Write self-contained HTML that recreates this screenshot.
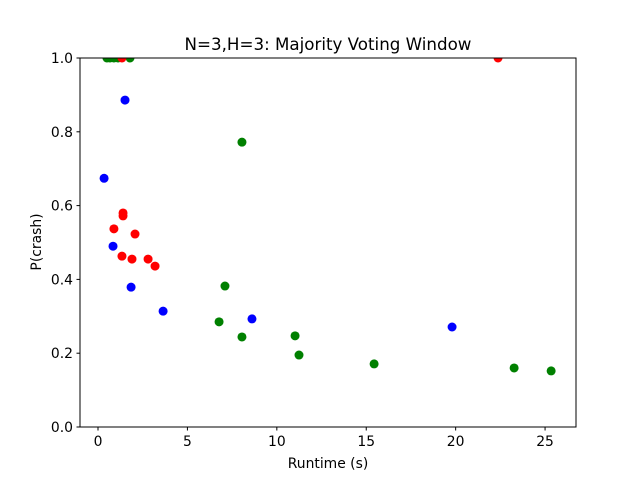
<!DOCTYPE html>
<html><head><meta charset="utf-8"><style>
body{margin:0;background:#fff;font-family:"DejaVu Sans","Liberation Sans",sans-serif;}
</style></head><body>
<svg id="chart" width="640" height="480" xmlns="http://www.w3.org/2000/svg" font-family="DejaVu Sans, Liberation Sans, sans-serif">
<rect width="640" height="480" fill="#fff"/>
<defs><clipPath id="clip"><rect x="80" y="58" width="496" height="369"/></clipPath></defs>
<g id="marks" clip-path="url(#clip)"></g>
<g id="axes"></g>
</svg>
<script>
const blueX=[0.34,0.84,1.51,1.85,3.64,8.61,19.8];
const blueY=[0.674,0.49,0.886,0.379,0.314,0.293,0.271];
const redX=[0.89,1.40,1.40,1.34,1.9,2.07,2.8,3.19,1.34,22.37];
const redY=[0.537,0.58,0.572,0.463,0.455,0.523,0.455,0.436,1.0,1.0];
const greenX=[0.5,0.67,0.89,1.12,1.79,8.05,7.1,6.77,8.05,11.02,11.24,15.44,23.27,25.34];
const greenY=[1.0,1.0,1.0,1.0,1.0,0.772,0.382,0.285,0.244,0.247,0.195,0.171,0.16,0.152];
const xTicks=[0,5,10,15,20,25];
const yTicks=[0.0,0.2,0.4,0.6,0.8,1.0];
const L=80,R=576,T=58,B=427,xmin=-1.007,xmax=26.73;
const sx=v=>L+(v-xmin)/(xmax-xmin)*(R-L);
const sy=v=>B-v*(B-T);
const NS='http://www.w3.org/2000/svg';
const marks=document.getElementById('marks'),axes=document.getElementById('axes');
function mk(tag,attrs,parent){const e=document.createElementNS(NS,tag);for(const k in attrs)e.setAttribute(k,attrs[k]);parent.appendChild(e);return e;}
function series(xs,ys,color,name){xs.forEach((x,i)=>{const c=mk('circle',{cx:sx(x),cy:sy(ys[i]),r:4.5,fill:color},marks);

});}
series(blueX,blueY,'#0000ff','blue');
series(greenX,greenY,'#008000','green');
series(redX,redY,'#ff0000','red');
const frame=mk('rect',{x:L,y:T,width:R-L,height:B-T,fill:'none',stroke:'#000','stroke-width':1},axes);


xTicks.forEach(t=>{const x=sx(t);mk('line',{x1:x,x2:x,y1:B,y2:B+3.5,stroke:'#000'},axes);
const tx=mk('text',{x:x,y:B+19,'font-size':13.9,'text-anchor':'middle'},axes);tx.textContent=t;

});
yTicks.forEach(t=>{const y=sy(t);mk('line',{x1:L-3.5,x2:L,y1:y,y2:y,stroke:'#000'},axes);
const tx=mk('text',{x:L-7,y:y+5,'font-size':13.9,'text-anchor':'end'},axes);tx.textContent=t.toFixed(1);

});
let e=mk('text',{x:328,y:468,'font-size':13.9,'text-anchor':'middle'},axes);e.textContent='Runtime (s)';


e=mk('text',{x:41,y:242,'font-size':13.9,'text-anchor':'middle',transform:'rotate(-90 41 242)'},axes);e.textContent='P(crash)';


e=mk('text',{x:328,y:50,'font-size':16.7,'text-anchor':'middle'},axes);e.textContent='N=3,H=3: Majority Voting Window';


</script>
</body></html>
